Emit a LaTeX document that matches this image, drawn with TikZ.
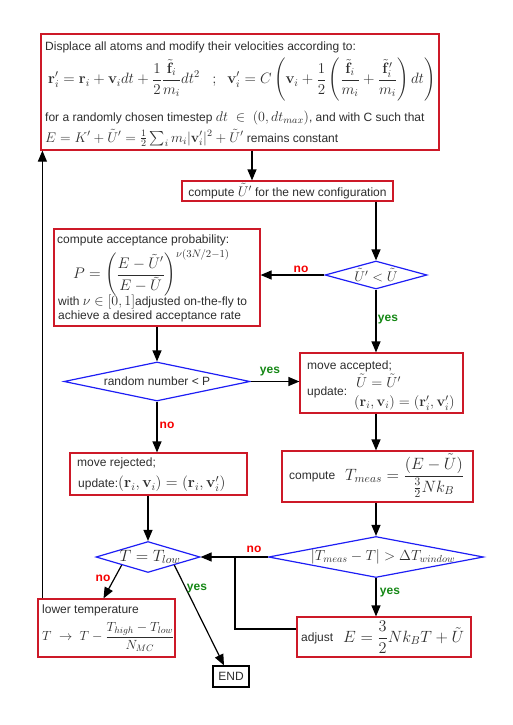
\RequirePackage{fix-cm}
\documentclass[tikz,border=0pt]{standalone}
\usepackage{amsmath}
\usepackage[no-math]{fontspec}
\setmainfont{Liberation Sans}
\usetikzlibrary{arrows.meta,shapes.geometric}

\definecolor{boxred}{RGB}{205,25,40}
\definecolor{decblue}{RGB}{30,30,245}
\definecolor{yesgreen}{RGB}{20,135,20}
\definecolor{nored}{RGB}{245,0,0}
\definecolor{txtgray}{RGB}{45,45,45}

% inline maths a bit larger than the text
\newcommand{\mth}[1]{{\fontsize{14}{16}\selectfont$#1$}}

\tikzset{
  procbox/.style={draw=boxred, line width=1.2pt, rectangle, inner sep=0pt},
  decision/.style={draw=decblue, line width=1.2pt, diamond, inner sep=0pt},
  txt/.style={anchor=west, inner sep=0pt, text=txtgray, font=\fontsize{12}{14}\selectfont},
  bigmath/.style={anchor=west, inner sep=0pt, text=txtgray, font=\fontsize{15}{17}\selectfont},
  flow/.style={-{Triangle[length=11pt,width=9pt]}, line width=1.2pt},
  yeslbl/.style={inner sep=0pt, text=yesgreen, font=\fontsize{12}{14}\selectfont\bfseries},
  nolbl/.style={inner sep=0pt, text=nored, font=\fontsize{12}{14}\selectfont\bfseries}
}

\begin{document}
\begin{tikzpicture}[x=1pt, y=-1pt]
    \useasboundingbox (0,0) rectangle (512,725);

        % Displacement step
        \node[procbox, minimum width=398pt, minimum height=116pt] (displace) at (240,92) {};
        \node[txt] (displacetxt) at (45,47) {Displace all atoms and modify their velocities according to:};
        \node[bigmath] (displacemath) at (48,80) {$\displaystyle \mathbf{r}'_i=\mathbf{r}_i+\mathbf{v}_i dt+\frac{1}{2}\frac{\tilde{\mathbf{f}}_i}{m_i}dt^2\;\;\;;\;\;\mathbf{v}'_i=C\left(\mathbf{v}_i+\frac{1}{2}\left(\frac{\tilde{\mathbf{f}}_i}{m_i}+\frac{\tilde{\mathbf{f}}'_i}{m_i}\right)dt\right)$};
        \node[txt] (timesteptxt) at (45,118) {for a randomly chosen timestep \mth{dt\ \in\ (0,dt_{max})}, and with C such that};
        \node[txt] (energytxt) at (45,138) {\mth{E=K'+\tilde{U}'=\tfrac{1}{2}\sum_i m_i|\mathbf{v}'_i|^2+\tilde{U}'} remains constant};

        % New potential energy
        \node[procbox, minimum width=211pt, minimum height=20pt] (newpot) at (287.5,191) {};
        \node[txt, anchor=center] (newpottxt) at (newpot.center) {compute \mth{\tilde{U}'} for the new configuration};

        % Decisions
        \node[decision, minimum width=102pt, minimum height=28pt] (potcheck) at (376,275) {};
        \node[txt, anchor=center] (potchecktxt) at (potcheck.center) {\mth{\tilde{U}'<\tilde{U}}};
        \node[decision, minimum width=186pt, minimum height=39pt] (randcheck) at (157,381.5) {};
        \node[txt, anchor=center] (randchecktxt) at (randcheck.center) {random number < P};
        \node[decision, minimum width=215pt, minimum height=41pt] (wincheck) at (376,557) {};
        \node[bigmath, anchor=center, font=\fontsize{14.6}{16}\selectfont] (winchecktxt) at (383,557) {$|T_{meas}-T|>\Delta T_{window}$};
        \node[decision, minimum width=104pt, minimum height=31pt] (tcheck) at (148,557) {};
        \node[bigmath, anchor=center, font=\fontsize{16.4}{18}\selectfont] (tchecktxt) at (150,557) {$T=T_{low}$};

        % Acceptance probability
        \node[procbox, minimum width=206pt, minimum height=97pt] (accprob) at (157,277.5) {};
        \node[txt] (accprobtxt) at (57,240) {compute acceptance probability:};
        \node[bigmath, font=\fontsize{15.3}{17}\selectfont] (accprobmath) at (73,273) {$\displaystyle P=\left(\frac{E-\tilde{U}'}{E-\tilde{U}}\right)^{\nu(3N/2-1)}$};
        \node[txt] (nutxt) at (58,302) {with \mth{\nu\in[0,1]}adjusted on-the-fly to};
        \node[txt] (ratetxt) at (58,316) {achieve a desired acceptance rate};

        % Accepted / rejected
        \node[procbox, minimum width=163pt, minimum height=60pt] (accepted) at (381.5,383) {};
        \node[txt] (acceptedtxt) at (307,366) {move accepted;};
        \node[txt] (updatetxt) at (307,392) {update:};
        \node[bigmath, font=\fontsize{14.5}{16}\selectfont] (updatepot) at (356,381) {$\tilde{U}=\tilde{U}'$};
        \node[bigmath, font=\fontsize{14.5}{16}\selectfont] (updatepos) at (354,403) {$(\mathbf{r}_i,\mathbf{v}_i)=(\mathbf{r}'_i,\mathbf{v}'_i)$};
        \node[procbox, minimum width=177pt, minimum height=42pt] (rejected) at (158.5,474) {};
        \node[txt] (rejectedtxt) at (77,463) {move rejected;};
        \node[txt] (keeptxt) at (78,484) {update:{\fontsize{15.5}{17}\selectfont$(\mathbf{r}_i,\mathbf{v}_i)=(\mathbf{r}_i,\mathbf{v}'_i)$}};

        % Temperature
        \node[procbox, minimum width=191pt, minimum height=51pt] (measure) at (377.5,476.5) {};
        \node[txt] (measuretxt) at (289,477) {compute};
        \node[bigmath, font=\fontsize{16.4}{18}\selectfont] (measuremath) at (345,476) {$\displaystyle T_{meas}=\frac{(E-\tilde{U})}{\frac{3}{2}Nk_B}$};
        \node[procbox, minimum width=174pt, minimum height=40pt] (adjust) at (384,637) {};
        \node[txt] (adjusttxt) at (301,638) {adjust};
        \node[bigmath, font=\fontsize{16.3}{18}\selectfont] (adjustmath) at (343,637) {$\displaystyle E=\frac{3}{2}Nk_BT+\tilde{U}$};
        \node[procbox, minimum width=137pt, minimum height=58pt] (cooldown) at (106.5,628) {};
        \node[txt] (cooldowntxt) at (42,610) {lower temperature};
        \node[bigmath, font=\fontsize{13.3}{15}\selectfont] (cooldownmath) at (42,637) {$\displaystyle T\ \rightarrow\ T-\frac{T_{high}-T_{low}}{N_{MC}}$};
        \node[draw, line width=1.2pt, minimum width=36pt, minimum height=21pt, inner sep=0pt, text=txtgray, font=\fontsize{12}{14}\selectfont] (finish) at (231,676.5) {END};

        % Flow
        \draw[flow] ([xshift=12pt]displace.south) -- ([xshift=12pt]displace.south |- newpot.north);
        \draw[flow] (newpot.south -| potcheck.north) -- (potcheck.north);
        \draw[flow] (potcheck.west) -- (potcheck.west -| accprob.east);
        \draw[flow] (potcheck.south) -- (potcheck.south |- accepted.north);
        \draw[flow] (accprob.south) -- (randcheck.north);
        \draw[flow] (randcheck.east) -- (randcheck.east -| accepted.west);
        \draw[flow] (randcheck.south) -- (randcheck.south |- rejected.north);
        \draw[flow] (potcheck.south |- accepted.south) -- (potcheck.south |- measure.north);
        \draw[flow] (potcheck.south |- measure.south) -- (wincheck.north);
        \draw[flow] (wincheck.west) -- (tcheck.east);
        \draw[flow] (wincheck.south) -- (wincheck.south |- adjust.north);
        \coordinate (merge) at (235,557);
        \draw[line width=1.2pt] ([yshift=8pt]adjust.west) -| (merge);
        \draw[flow] (tcheck.north |- rejected.south) -- (tcheck.north);
        \draw[flow] (tcheck.south west) -- ([xshift=-3pt]cooldown.north);
        \draw[flow] (tcheck.south east) -- ([xshift=-7pt]finish.north);
        \draw[flow] ([xshift=5pt]cooldown.north west) -- ([xshift=5pt]cooldown.north west |- displace.south);

        % Labels
        \node[nolbl] (nopot) at (301,269) {no};
        \node[yeslbl] (yespot) at (388,320) {yes};
        \node[yeslbl] (yesrand) at (270,372) {yes};
        \node[nolbl] (norand) at (167,425) {no};
        \node[nolbl] (nowin) at (254,549) {no};
        \node[yeslbl] (yeswin) at (390,593) {yes};
        \node[nolbl] (notlow) at (103,578) {no};
        \node[yeslbl] (yestlow) at (197,589) {yes};

    \end{tikzpicture}
\end{document}
